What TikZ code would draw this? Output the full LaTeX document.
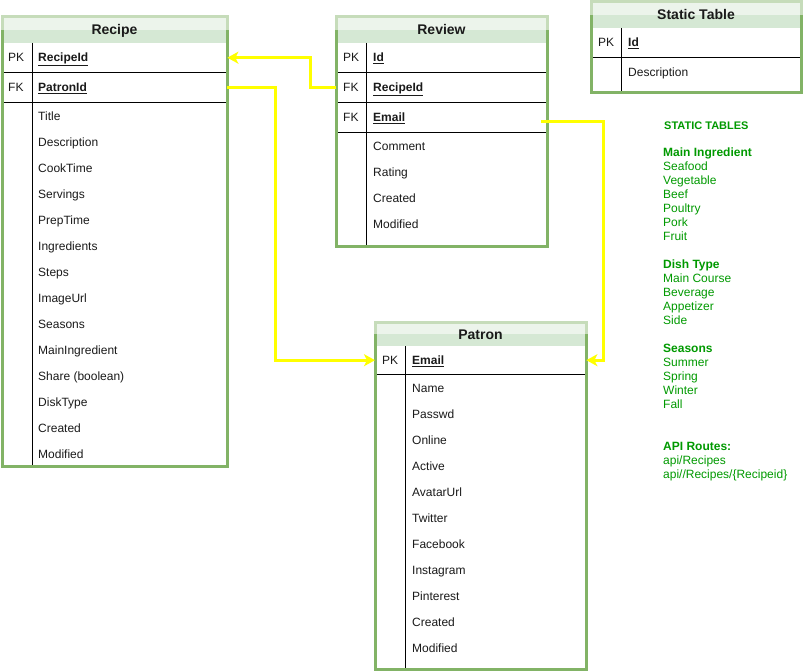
\documentclass[tikz,border=0pt]{standalone}
\usepackage{fontspec}
\setmainfont{Liberation Sans}
\usetikzlibrary{arrows.meta}
\definecolor{tgreen}{HTML}{82B366}
\definecolor{hfill}{HTML}{D5E8D4}
\definecolor{ngreen}{HTML}{009900}
\definecolor{ylw}{HTML}{FFFF00}
\definecolor{txt}{HTML}{1A1A1A}
\tikzset{
 tblframe/.style={draw=tgreen, line width=3pt},
 hdrtext/.style={font=\fontsize{14}{16}\selectfont\bfseries, inner sep=0pt, anchor=base, text=txt},
 fld/.style={font=\fontsize{12}{14}\selectfont, anchor=base west, inner sep=0pt, text=txt},
 rowbox/.style={draw=none, inner sep=0pt, anchor=north west},
 rowline/.style={draw=black, line width=1pt},
 fkarrow/.style={draw=ylw, line width=3pt, -{Stealth[length=11pt,width=12pt,inset=3pt]}},
 notetext/.style={font=\fontsize{12}{14}\selectfont, text=ngreen, anchor=base west, inner sep=0pt},
}
% background of a table: L T R HB B
\newcommand\tblbg[5]{%
 \fill[white] (#1,#2) rectangle (#3,#5);
 \fill[hfill] (#1,#2) rectangle (#3,#4);}
% shell of a table: L T R HB B D name title
\newcommand\tbltop[8]{%
 \draw[rowline] (#6,#4) -- (#6,#5);
 \draw[tblframe] (#1,#2) rectangle (#3,#5);
 \fill[white,opacity=0.55] ({#1-1.5},{#2-1.5}) rectangle ({#3+1.5},{(#2+#4)/2});
 \node[hdrtext] (#7) at ({(#1+#3)/2},{(#2+#4)/2+5}) {#8};}
\begin{document}
\begin{tikzpicture}[x=1pt,y=-1pt]
\useasboundingbox (0,0) rectangle (803,671);

% ---------------- Recipe ----------------
\tblbg{2}{17}{227}{43}{466}
\node[rowbox, minimum width=225pt, minimum height=29pt] (rcpk) at (2,43) {};
\node[rowbox, minimum width=225pt, minimum height=30pt] (rcfk) at (2,72) {};
\draw[rowline] (rcpk.south west) -- (rcpk.south east);
\draw[rowline] (rcfk.south west) -- (rcfk.south east);
\node[fld] (rcpka) at (8,61.8) {PK};
\node[fld] (rcpkb) at (38,61.8) {\underline{\textbf{RecipeId}}};
\node[fld] (rcfka) at (8,91.3) {FK};
\node[fld] (rcfkb) at (38,91.3) {\underline{\textbf{PatronId}}};
\foreach \f [count=\i from 0] in {Title,Description,CookTime,Servings,PrepTime,Ingredients,Steps,ImageUrl,Seasons,MainIngredient,Share (boolean),DiskType,Created,Modified}
  \node[fld] (rcf\i) at (38,{120.8+26*\i}) {\f};
\tbltop{2}{17}{227}{43}{466}{32}{recipe}{Recipe}

% ---------------- Review ----------------
\tblbg{336}{17}{547}{43}{246}
\node[rowbox, minimum width=211pt, minimum height=29pt] (rvpk) at (336,43) {};
\node[rowbox, minimum width=211pt, minimum height=30pt] (rvfka) at (336,72) {};
\node[rowbox, minimum width=211pt, minimum height=30pt] (rvfkb) at (336,102) {};
\draw[rowline] (rvpk.south west) -- (rvpk.south east);
\draw[rowline] (rvfka.south west) -- (rvfka.south east);
\draw[rowline] (rvfkb.south west) -- (rvfkb.south east);
\node[fld] (rvpka) at (343,61.8) {PK};
\node[fld] (rvpkb) at (373,61.8) {\underline{\textbf{Id}}};
\node[fld] (rvfkaa) at (343,91.3) {FK};
\node[fld] (rvfkab) at (373,91.3) {\underline{\textbf{RecipeId}}};
\node[fld] (rvfkba) at (343,121.3) {FK};
\node[fld] (rvfkbb) at (373,121.3) {\underline{\textbf{Email}}};
\foreach \f [count=\i from 0] in {Comment,Rating,Created,Modified}
  \node[fld] (rvf\i) at (373,{150.8+26*\i}) {\f};
\tbltop{336}{17}{547}{43}{246}{366}{review}{Review}

% ---------------- Static Table ----------------
\tblbg{591}{2}{801}{28}{93}
\node[rowbox, minimum width=210pt, minimum height=29pt] (stpk) at (591,28) {};
\draw[rowline] (stpk.south west) -- (stpk.south east);
\node[fld] (stpka) at (598,46.3) {PK};
\node[fld] (stpkb) at (628,46.3) {\underline{\textbf{Id}}};
\node[fld] (stf0) at (628,76.3) {Description};
\tbltop{591}{2}{801}{28}{93}{621}{static}{Static Table}

% ---------------- Patron ----------------
\tblbg{375}{322}{586}{346}{669}
\node[rowbox, minimum width=211pt, minimum height=28pt] (ptpk) at (375,346) {};
\draw[rowline] (ptpk.south west) -- (ptpk.south east);
\node[fld] (ptpka) at (382,364.3) {PK};
\node[fld] (ptpkb) at (412,364.3) {\underline{\textbf{Email}}};
\foreach \f [count=\i from 0] in {Name,Passwd,Online,Active,AvatarUrl,Twitter,Facebook,Instagram,Pinterest,Created,Modified}
  \node[fld] (ptf\i) at (412,{392.8+26*\i}) {\f};
\tbltop{375}{322}{586}{346}{669}{405}{patron}{Patron}

% ---------------- Connectors ----------------
\draw[fkarrow] (rvfka.west) -- ++(-26,0) |- (rcpk.east);
\draw[fkarrow] (rcfk.east) -- ++(48,0) |- (ptpk.west);
\draw[fkarrow] ([shift={(-6,4)}]rvfkb.east) -- ++(62,0) |- (ptpk.east);

% ---------------- Notes ----------------
\node[notetext, font=\fontsize{11}{13}\selectfont\bfseries] (n1) at (664,129.2) {STATIC TABLES};
\node[notetext, font=\fontsize{12}{14}\selectfont\bfseries] (n2) at (663,156.3) {Main Ingredient};
\node[notetext] (n3) at (663,170.3) {Seafood};
\node[notetext] (n4) at (663,184.3) {Vegetable};
\node[notetext] (n5) at (663,198.3) {Beef};
\node[notetext] (n6) at (663,212.3) {Poultry};
\node[notetext] (n7) at (663,226.3) {Pork};
\node[notetext] (n8) at (663,240.3) {Fruit};
\node[notetext, font=\fontsize{12}{14}\selectfont\bfseries] (n9) at (663,268.3) {Dish Type};
\node[notetext] (n10) at (663,282.3) {Main Course};
\node[notetext] (n11) at (663,296.3) {Beverage};
\node[notetext] (n12) at (663,310.3) {Appetizer};
\node[notetext] (n13) at (663,324.3) {Side};
\node[notetext, font=\fontsize{12}{14}\selectfont\bfseries] (n14) at (663,352.3) {Seasons};
\node[notetext] (n15) at (663,366.3) {Summer};
\node[notetext] (n16) at (663,380.3) {Spring};
\node[notetext] (n17) at (663,394.3) {Winter};
\node[notetext] (n18) at (663,408.3) {Fall};
\node[notetext, font=\fontsize{12}{14}\selectfont\bfseries] (n19) at (663,450.3) {API Routes:};
\node[notetext] (n20) at (663,464.3) {api/Recipes};
\node[notetext] (n21) at (663,478.3) {api//Recipes/\{Recipeid\}};
\end{tikzpicture}
\end{document}
